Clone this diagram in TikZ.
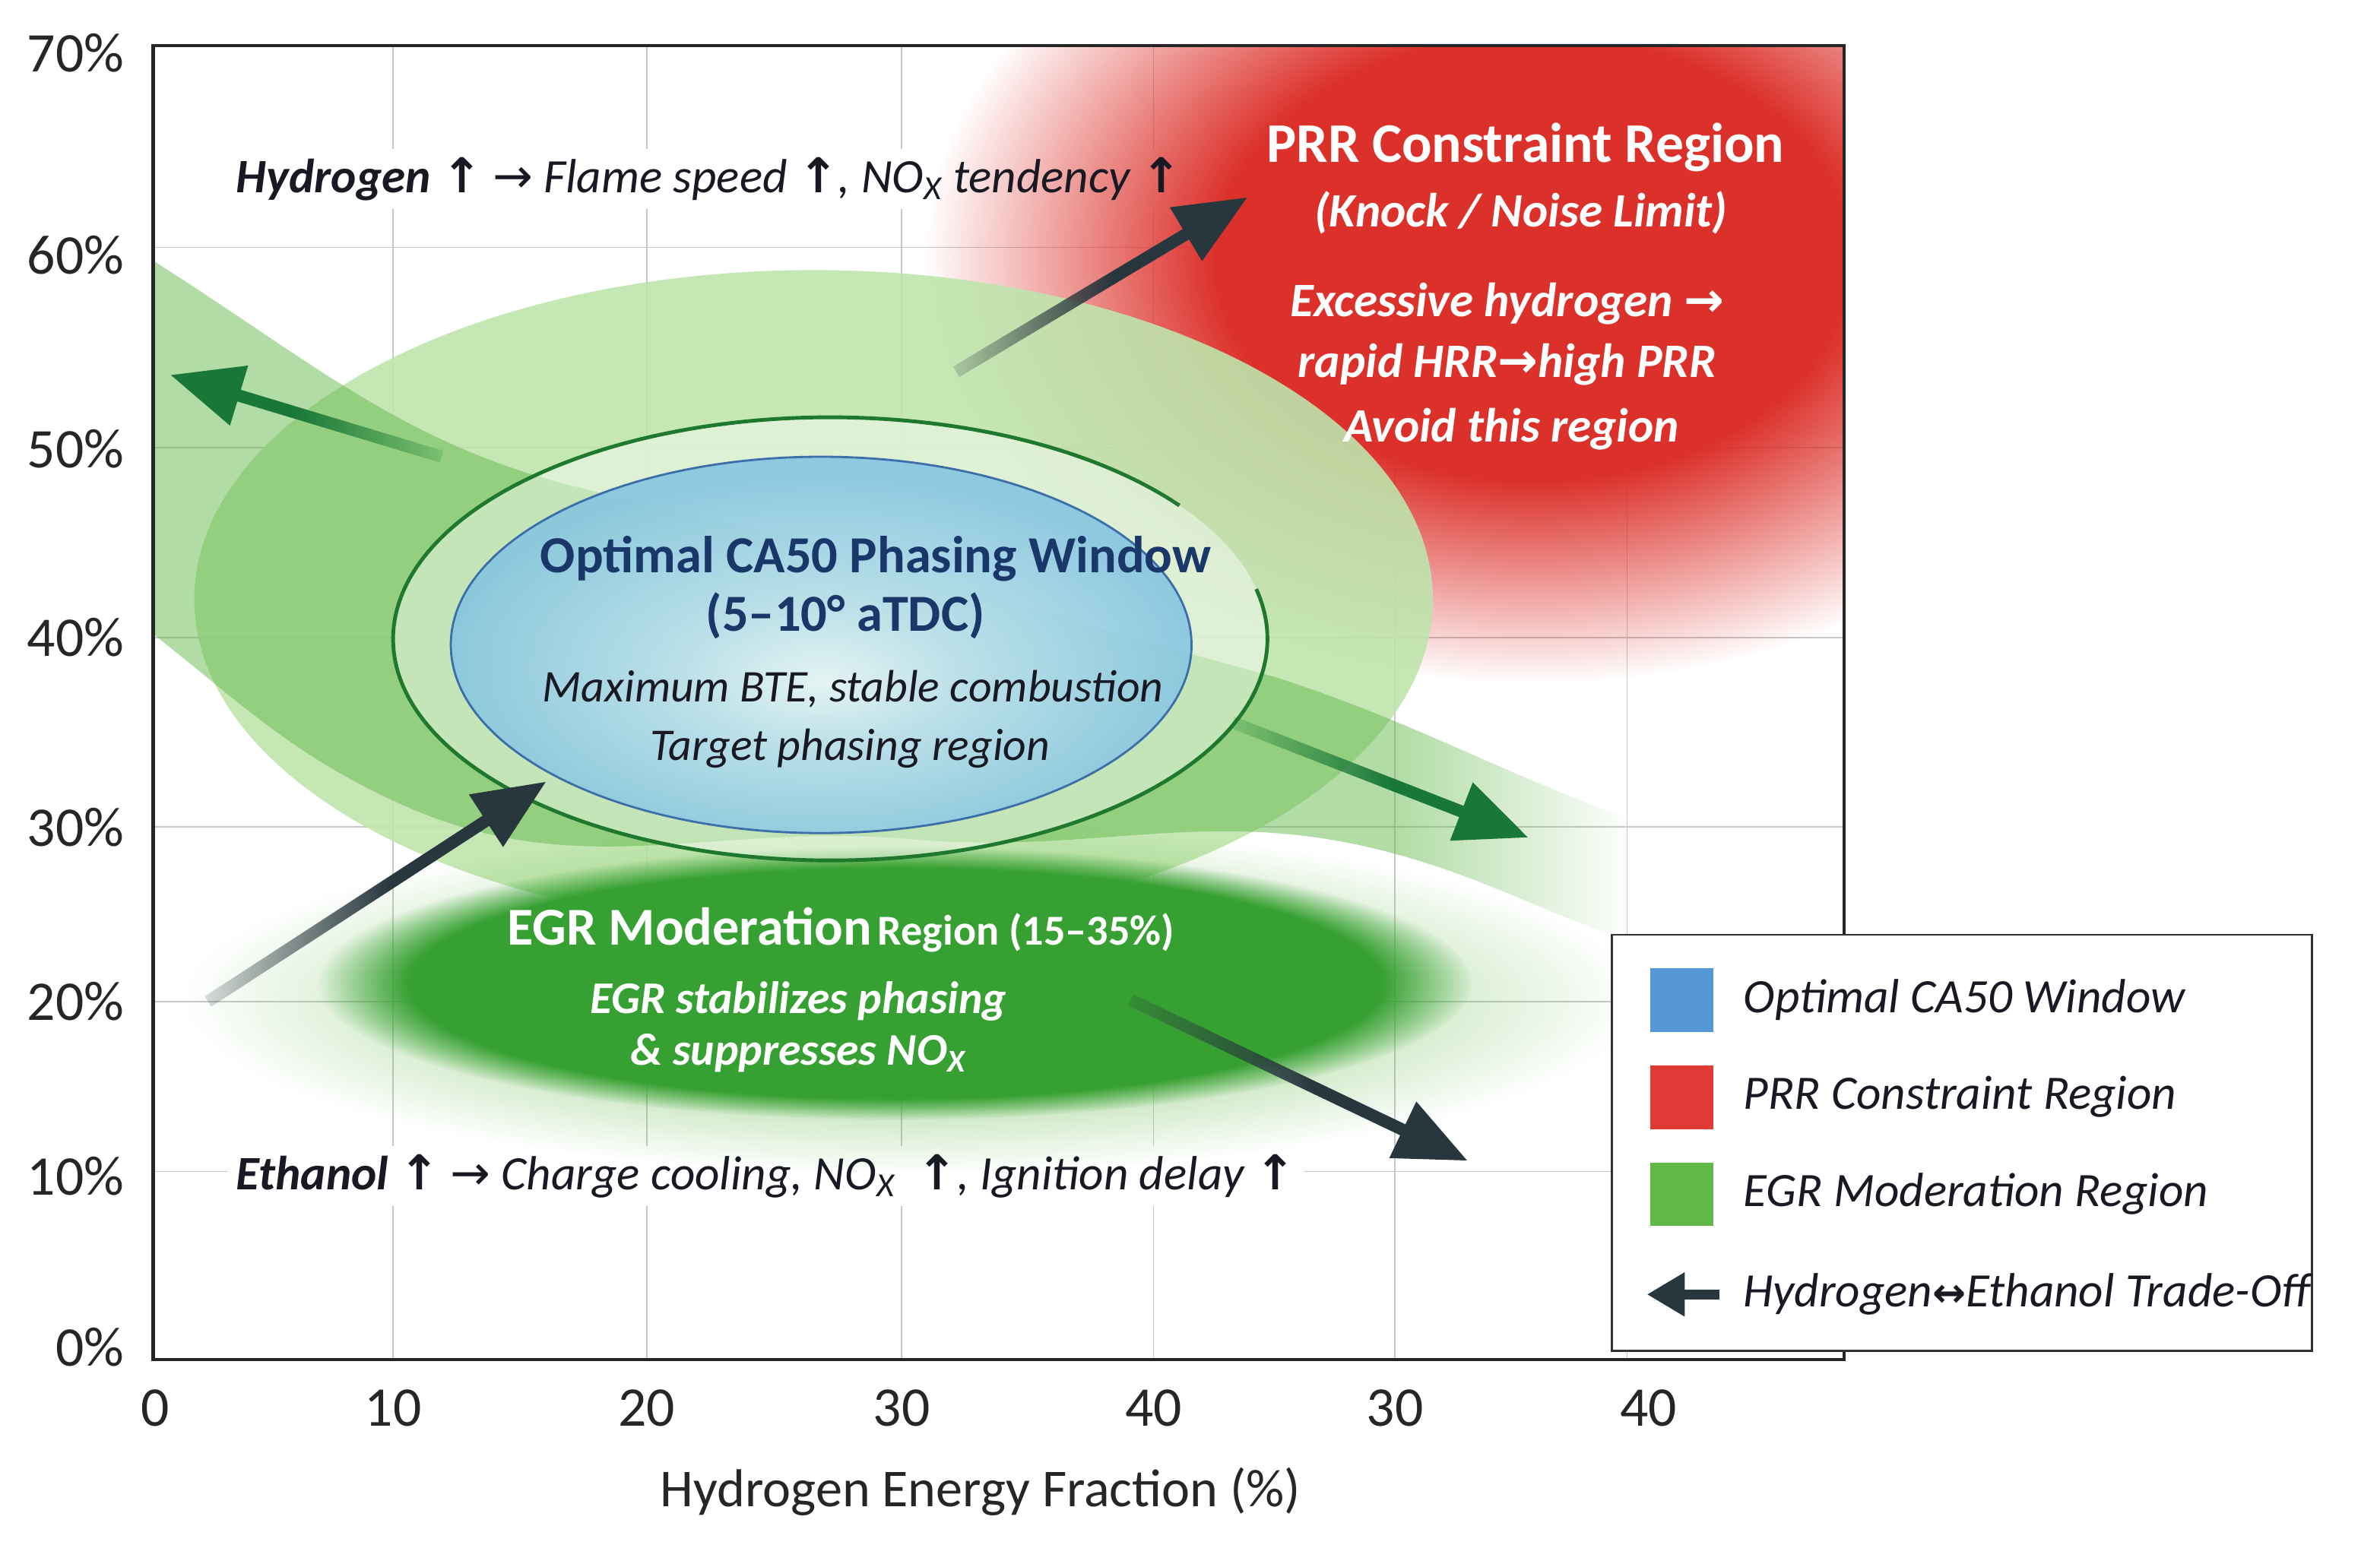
\documentclass[tikz,border=0pt]{standalone}
\usepackage{fontspec}
\setmainfont{Carlito}
\newfontfamily\arrowfont{DejaVu Sans}
\usetikzlibrary{arrows.meta,fadings,positioning}

\definecolor{gridgray}{RGB}{200,200,200}
\definecolor{prrred}{RGB}{220,48,42}
\definecolor{egrlight}{RGB}{190,228,172}
\definecolor{egrband}{RGB}{100,185,75}
\definecolor{egrdark}{RGB}{55,160,50}
\definecolor{ringgreen}{RGB}{30,120,45}
\definecolor{winedge}{RGB}{135,198,225}
\definecolor{winlight}{RGB}{232,246,250}
\definecolor{winline}{RGB}{60,110,170}
\definecolor{navytext}{RGB}{25,55,105}
\definecolor{inktext}{RGB}{25,25,35}
\definecolor{slatearrow}{RGB}{40,55,62}
\definecolor{greenarrow}{RGB}{25,120,55}
\definecolor{legblue}{RGB}{85,150,215}
\definecolor{legred}{RGB}{224,58,54}
\definecolor{leggreen}{RGB}{95,185,68}

\pgfdeclarelayer{background}
\pgfsetlayers{background,main}

% soft edged regions (fitted fadings use the inner half of the box)
\pgfdeclareradialshading{softshade}{\pgfpointorigin}{color(0bp)=(white); color(13bp)=(white); color(25bp)=(black); color(50bp)=(black)}
\pgfdeclarefading{softedge}{\pgfuseshading{softshade}}
\pgfdeclareradialshading{crispshade}{\pgfpointorigin}{color(0bp)=(white); color(21bp)=(white); color(25bp)=(black); color(50bp)=(black)}
\pgfdeclarefading{crispedge}{\pgfuseshading{crispshade}}
\pgfdeclarehorizontalshading{bandshade}{100bp}{color(0bp)=(white); color(67bp)=(white); color(75bp)=(black); color(100bp)=(black)}
\pgfdeclarefading{bandfade}{\pgfuseshading{bandshade}}
\pgfdeclarehorizontalshading{tailshade}{100bp}{color(0bp)=(black!85); color(25bp)=(black!85); color(52bp)=(white); color(100bp)=(white)}
\pgfdeclarefading{tailfade}{\pgfuseshading{tailshade}}
\pgfdeclarehorizontalshading{tailshaderev}{100bp}{color(0bp)=(white); color(48bp)=(white); color(75bp)=(black!85); color(100bp)=(black!85)}
\pgfdeclarefading{tailfaderev}{\pgfuseshading{tailshaderev}}
\pgfdeclareradialshading{windowshade}{\pgfpoint{0bp}{-5bp}}{color(0bp)=(winlight); color(9bp)=(winlight!55!winedge); color(25bp)=(winedge); color(50bp)=(winedge)}

\newcommand{\uparr}{{\arrowfont\bfseries\upshape ↑}}
\newcommand{\rarr}{{\arrowfont\upshape →}}
\newcommand{\lrarr}{{\arrowfont\bfseries\upshape\fontsize{15}{18}\selectfont ↔}}

\tikzset{
  gridline/.style={gridgray, line width=0.5pt},
  ticklab/.style={font=\fontsize{21}{25}\selectfont, text=black!85, inner sep=0pt},
  axislab/.style={font=\fontsize{20}{24}\selectfont, text=black!85},
  noteline/.style={font=\fontsize{18}{22}\selectfont\itshape, text=inktext, inner sep=3pt},
  prrtitle/.style={font=\fontsize{21}{25}\selectfont\bfseries, text=white},
  prrtxt/.style={font=\fontsize{18}{22}\selectfont\bfseries\itshape, text=white},
  wintitle/.style={font=\fontsize{19.5}{24}\selectfont\bfseries, text=navytext},
  wintxt/.style={font=\fontsize{17}{21}\selectfont\itshape, text=inktext},
  egrtxt/.style={font=\fontsize{17}{21}\selectfont\bfseries\itshape, text=white},
  legtxt/.style={font=\fontsize{18}{22}\selectfont\itshape, text=inktext, inner sep=0pt},
  ringline/.style={ringgreen, line width=1.4pt},
  bigarrow/.style={line width=0.16cm, -{Triangle[length=0.95cm, width=0.78cm]}},
  keybox/.style={minimum size=0.84cm, inner sep=0pt}
}

\begin{document}
\begin{tikzpicture}
  \useasboundingbox (0,0) rectangle (31.36,20.36);

  % grid
  \begin{pgfonlayer}{background}
    \foreach \x in {5.18,8.52,11.88,15.2,18.38,21.44}
      \draw[gridline] (\x,2.44) -- (\x,19.76);
    \foreach \y in {17.1,14.46,11.96,9.46,7.16,4.92}
      \draw[gridline] (2.02,\y) -- (24.3,\y);
  \end{pgfonlayer}

  % PRR region, EGR regions and trade-off band
  \begin{scope}
    \clip (2.02,2.44) rectangle (24.3,19.76);
    \fill[prrred, path fading=softedge] (20.2,16.96) ellipse (8.0 and 5.6);
    \fill[egrlight, opacity=0.9] (10.72,12.46) ellipse (8.16 and 4.34);
    \fill[egrband, opacity=0.5, path fading=bandfade]
      (1.9,17.0) to[out=-32,in=168] (8.0,13.85) to[out=-12,in=165] (16.8,11.44)
      to[out=-18,in=160] (21.5,9.56) -- (21.5,7.96) to[out=162,in=-15] (18.34,9.12)
      to[out=165,in=-5] (12.0,9.3) to[out=175,in=-25] (5.2,9.8)
      to[out=155,in=-38] (1.9,12.1) -- cycle;
  \end{scope}
  \fill[egrband, opacity=0.45, path fading=softedge] (12.0,7.2) ellipse (9.6 and 2.3);
  \fill[egrdark, path fading=crispedge] (11.8,7.4) ellipse (7.6 and 1.8);
  \fill[white, opacity=0.45] (10.94,11.94) ellipse (5.76 and 2.92);
  \draw[ringline] ([shift={(37:5.76 and 2.92)}]10.94,11.94)
    arc[start angle=37, end angle=373, x radius=5.76, y radius=2.92];

  % CA50 window
  \shade[shading=windowshade, opacity=0.9] (10.82,11.86) ellipse (4.88 and 2.48);
  \draw[winline, line width=0.8pt] (10.82,11.86) ellipse (4.88 and 2.48);

  % arrows
  \coordinate (upltail) at (5.82,14.34);
  \coordinate (uplhead) at (2.24,15.42);
  \coordinate (prrtail) at (12.6,15.46);
  \coordinate (prrhead) at (16.44,17.76);
  \coordinate (egrtail) at (16.24,10.84);
  \coordinate (egrhead) at (20.14,9.32);
  \coordinate (wintail) at (2.74,7.16);
  \coordinate (winhead) at (7.2,10.06);
  \coordinate (ethtail) at (14.9,7.18);
  \coordinate (ethhead) at (19.34,5.06);
  \draw[bigarrow, greenarrow, path fading=tailfaderev] (upltail) -- (uplhead);
  \draw[bigarrow, slatearrow, path fading=tailfade] (prrtail) -- (prrhead);
  \draw[bigarrow, greenarrow, path fading=tailfade] (egrtail) -- (egrhead);
  \draw[bigarrow, slatearrow, path fading=tailfade] (wintail) -- (winhead);
  \draw[bigarrow, slatearrow, path fading=tailfade] (ethtail) -- (ethhead);

  % frame and ticks
  \draw[line width=1.3pt, black!85] (2.02,2.44) rectangle (24.3,19.76);
  \foreach \y/\t in {19.66/70,17.0/60,14.44/50,11.96/40,9.46/30,7.16/20,4.86/10,2.60/0}
    \node[ticklab, anchor=east] (ylab\t) at (1.64,\y) {\t\%};
  \foreach \x/\t/\n in {2.04/0/a,5.18/10/b,8.52/20/c,11.88/30/d,15.2/40/e,18.38/30/f,21.72/40/g}
    \node[ticklab] (xlab\n) at (\x,1.8) {\t};
  \node[axislab] (xtitle) at (12.92,0.7) {Hydrogen Energy Fraction (\%)};

  % trend notes
  \node[noteline, anchor=west] (hyd) at (3.0,18.0)
    {\textbf{Hydrogen} \uparr\ \rarr\ Flame speed \uparr, NO\textsubscript{X} tendency \uparr};
  \node[noteline, anchor=west] (eth) at (3.0,4.86)
    {\textbf{Ethanol} \uparr\ \rarr\ Charge cooling, NO\textsubscript{X}\ \ \uparr, Ignition delay \uparr};
  \begin{pgfonlayer}{background}
    \fill[white] (hyd.south west) rectangle (hyd.north east);
    \fill[white] (eth.south west) rectangle (eth.north east);
  \end{pgfonlayer}

  % PRR labels
  \node[prrtitle] (prr1) at (20.1,18.42) {PRR Constraint Region};
  \node[prrtxt] (prr2) at (20.04,17.56) {(Knock / Noise Limit)};
  \node[prrtxt] (prr3) at (19.86,16.36) {Excessive hydrogen \rarr};
  \node[prrtxt] (prr4) at (19.86,15.56) {rapid HRR\rarr high PRR};
  \node[prrtxt] (prr5) at (19.92,14.7) {Avoid this region};

  % window labels
  \node[wintitle] (win1) at (11.54,13.0) {Optimal CA50 Phasing Window};
  \node[wintitle] (win2) at (11.14,12.24) {(5–10° aTDC)};
  \node[wintxt] (win3) at (11.24,11.28) {Maximum BTE, stable combustion};
  \node[wintxt] (win4) at (11.2,10.5) {Target phasing region};

  % EGR labels
  \node[text=white, font=\bfseries] (egr1) at (11.08,8.1)
    {{\fontsize{20}{24}\selectfont EGR Moderation} {\fontsize{16}{20}\selectfont Region (15–35\%)}};
  \node[egrtxt] (egr2) at (10.52,7.16) {EGR stabilizes phasing};
  \node[egrtxt] (egr3) at (10.52,6.48) {\& suppresses NO\textsubscript{X}};

  % legend
  \node[draw=black!80, line width=0.8pt, fill=white, minimum width=9.22cm, minimum height=5.48cm] (legend) at (25.85,5.3) {};
  \node[keybox, fill=legblue] (kwin) at (22.16,7.18) {};
  \node[keybox, fill=legred] (kprr) at (22.16,5.9) {};
  \node[keybox, fill=leggreen] (kegr) at (22.16,4.62) {};
  \node[legtxt, right=0.38cm of kwin] (lwin) {Optimal CA50 Window};
  \node[legtxt, right=0.38cm of kprr] (lprr) {PRR Constraint Region};
  \node[legtxt, right=0.38cm of kegr] (legr) {EGR Moderation Region};
  \coordinate (ktail) at (22.66,3.3);
  \coordinate (khead) at (21.7,3.3);
  \draw[slatearrow, line width=0.13cm, -{Triangle[length=0.5cm, width=0.55cm]}] (ktail) -- (khead);
  \node[legtxt, anchor=west] (ltrade) at (22.96,3.3) {Hydrogen\lrarr Ethanol Trade-Off};
\end{tikzpicture}
\end{document}
